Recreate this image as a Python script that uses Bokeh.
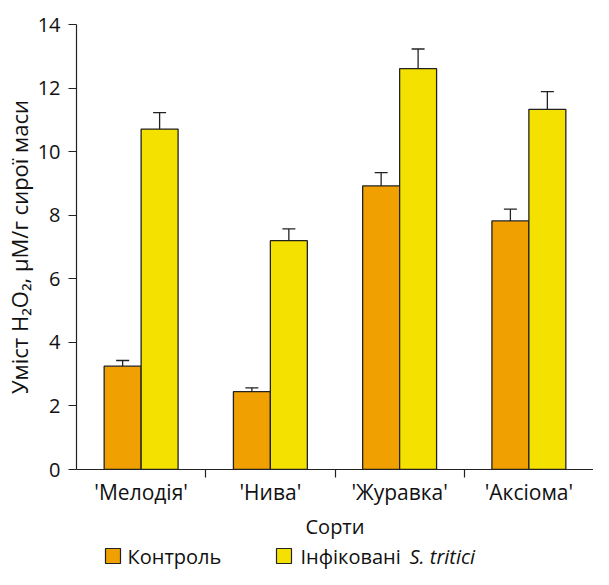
from bokeh.plotting import figure
from bokeh.models import ColumnDataSource, Whisker, FixedTicker, Range1d
from bokeh.layouts import column
from bokeh.embed import file_html
from bokeh.resources import INLINE
from bokeh.core.properties import value

# ---- data ----
categories = ["'Мелодія'", "'Нива'", "'Журавка'", "'Аксіома'"]
control = [3.25, 2.45, 8.92, 7.82]
control_err = [0.18, 0.12, 0.42, 0.37]
infected = [10.71, 7.20, 12.61, 11.33]
infected_err = [0.52, 0.37, 0.62, 0.56]
y_ticks = [0, 2, 4, 6, 8, 10, 12, 14]
legend_control = "Контроль"
legend_infected = "Інфіковані"
legend_species = "S. tritici"
x_title = "Сорти"
y_title = "Уміст H₂O₂, μМ/г сирої маси"

FONT = "Open Sans"
ORANGE = "#F0A000"
YELLOW = "#F5E100"
EDGE = "#222222"
FS = "20px"
FS_L = "21px"

n = len(categories)
centers = [i + 0.5 for i in range(n)]
bw = 0.286

src = ColumnDataSource(dict(
    xc=[c - bw / 2 for c in centers],
    xi=[c + bw / 2 for c in centers],
    control=control,
    infected=infected,
    cu=[v + e for v, e in zip(control, control_err)],
    cl=[v - e for v, e in zip(control, control_err)],
    iu=[v + e for v, e in zip(infected, infected_err)],
    il=[v - e for v, e in zip(infected, infected_err)],
))

W, H, LH = 593, 542, 27
LEFT = 76

p = figure(width=W, height=H, x_range=Range1d(0, n), y_range=Range1d(0, 14),
           output_backend="svg", toolbar_location=None,
           min_border_left=LEFT, min_border_right=0, min_border_top=24, min_border_bottom=72)
p.outline_line_color = None
p.grid.grid_line_color = None
p.background_fill_color = "white"

p.vbar(x="xc", top="control", bottom=0, width=bw, source=src,
       fill_color=ORANGE, line_color=EDGE, line_width=1.3)
p.vbar(x="xi", top="infected", bottom=0, width=bw, source=src,
       fill_color=YELLOW, line_color=EDGE, line_width=1.3)

for base, up, lo in (("xc", "cu", "cl"), ("xi", "iu", "il")):
    w = Whisker(source=src, base=base, upper=up, lower=lo,
                line_color=EDGE, line_width=1.3)
    w.upper_head.size = 13
    w.lower_head.size = 13
    w.upper_head.line_color = EDGE
    w.lower_head.line_color = EDGE
    w.upper_head.line_width = 1.3
    w.lower_head.line_width = 1.3
    p.add_layout(w)

xa = p.xaxis[0]
xa.ticker = FixedTicker(ticks=centers, minor_ticks=[i for i in range(1, n)])
xa.major_label_overrides = {c: lab for c, lab in zip(centers, categories)}
xa.major_tick_out = 0
xa.major_tick_in = 0
xa.minor_tick_out = 8
xa.minor_tick_in = 0
xa.minor_tick_line_color = EDGE
xa.axis_line_color = EDGE
xa.major_label_standoff = 0
xa.axis_label = x_title
xa.axis_label_standoff = 4

ya = p.yaxis[0]
ya.ticker = FixedTicker(ticks=y_ticks)
ya.major_tick_out = 8
ya.major_tick_in = 0
ya.minor_tick_line_color = None
ya.major_tick_line_color = EDGE
ya.axis_line_color = EDGE
ya.major_label_standoff = 8
ya.axis_label = y_title
ya.axis_label_standoff = 1

for ax in (xa, ya):
    ax.major_label_text_font = FONT
    ax.major_label_text_font_size = FS
    ax.major_label_text_color = "#111111"
    ax.axis_label_text_font = FONT
    ax.axis_label_text_font_size = FS
    ax.axis_label_text_font_style = "normal"
    ax.axis_label_text_color = "#111111"
    ax.axis_line_width = 1.2
    ax.major_tick_line_width = 1.2
    ax.minor_tick_line_width = 1.2
xa.major_label_text_font_size = FS_L
ya.axis_label_text_font_size = "22px"

# ---- legend strip (frame aligned with the main frame, data x = pixel x) ----
lg = figure(width=W, height=LH, x_range=Range1d(LEFT, W), y_range=Range1d(0, LH),
            output_backend="svg", toolbar_location=None,
            x_axis_location=None, y_axis_location=None,
            min_border_left=LEFT, min_border_right=0, min_border_top=0, min_border_bottom=0)
lg.grid.grid_line_color = None
lg.outline_line_color = None
lg.rect(x=[112.5, 283.5], y=[13.5, 13.5], width=15, height=15,
        fill_color=[ORANGE, YELLOW], line_color=EDGE, line_width=1.2)
lg.text(x=[127, 300], y=[13.5, 13.5], text=[legend_control, legend_infected],
        text_font=value(FONT), text_font_size=FS, text_baseline="middle",
        text_color="#111111")
lg.text(x=[409], y=[13.5], text=[legend_species],
        text_font=value(FONT), text_font_size=FS, text_font_style="italic",
        text_baseline="middle", text_color="#111111")

layout = column(p, lg, spacing=0)
open("out.html", "w").write(file_html(layout, INLINE))
